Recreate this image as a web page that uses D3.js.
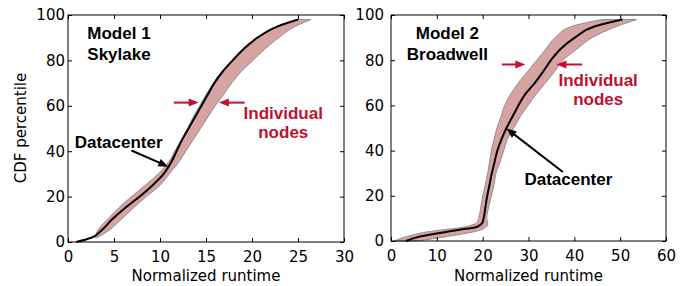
<!DOCTYPE html>
<html>
<head>
<meta charset="utf-8">
<script src="https://cdn.jsdelivr.net/npm/d3@7"></script>
<style>
  body { margin: 0; background: #fff; }
  .tick text { font-family: "DejaVu Sans", sans-serif; font-size: 15px; fill: #000; }
  .tick line { stroke: #000; }
  .note { font-family: "Liberation Sans", Arial, sans-serif; font-weight: bold; font-size: 17px; }
</style>
</head>
<body>
<script>
// CDF percentiles, runtimes
var pct1 = [0, 2, 5, 10, 15, 20, 25, 30, 35, 40, 45, 50, 55, 60, 65, 70, 75, 80, 85, 90, 95, 98];
var dc1  = [0.9, 2.6, 3.6, 4.8, 6.2, 7.8, 9.2, 10.4, 11.2, 11.8, 12.4, 13.1, 13.8, 14.5, 15.2, 15.9, 16.8, 17.9, 19.1, 20.6, 22.8, 25.0];
var lo1  = [null, 2.9, 3.2, 4.3, 5.5, 6.9, 8.4, 9.8, 10.9, 11.6, 12.3, 13.0, 13.6, 14.3, 15.0, 15.8, 16.7, 17.8, 19.0, 20.5, 22.7, 24.9];
var hi1  = [null, 3.2, 4.4, 5.8, 7.1, 8.5, 10.0, 11.0, 12.0, 12.8, 13.6, 14.4, 15.2, 16.0, 16.9, 17.8, 18.8, 20.1, 21.4, 22.9, 24.7, 26.4];

var pct2 = [0, 2, 4, 5, 6, 7, 8, 10, 15, 20, 25, 30, 35, 40, 45, 50, 55, 60, 65, 70, 75, 80, 85, 90, 95, 98];
var dc2  = [3.3, 6.3, 12.0, 15.0, 18.3, 19.4, 19.9, 20.2, 20.6, 21.0, 21.5, 22.0, 22.6, 23.2, 24.1, 25.2, 26.5, 27.8, 29.3, 31.4, 33.2, 34.9, 37.0, 40.1, 44.5, 50.5];
var lo2  = [0.7, 3.5, 7.8, 11.5, 15.5, 17.5, 18.7, 19.1, 19.6, 20.0, 20.6, 21.1, 21.5, 21.9, 22.5, 23.1, 24.0, 24.8, 26.1, 27.8, 29.8, 31.8, 33.8, 35.8, 39.5, 46.0];
var hi2  = [5.8, 12.3, 17.9, 19.7, 20.6, 21.1, 21.1, 20.9, 21.3, 21.9, 22.5, 22.9, 23.8, 24.6, 25.4, 26.8, 28.2, 29.9, 31.7, 33.7, 35.7, 37.5, 40.6, 43.9, 49.3, 53.6];

var yTicks = [0, 20, 40, 60, 80, 100];
var xTicks1 = [0, 5, 10, 15, 20, 25, 30];
var xTicks2 = [0, 10, 20, 30, 40, 50, 60];

var red = "#c0112d";

var svg = d3.select("body").append("svg")
    .attr("width", 691)
    .attr("height", 286);

var panels = [
  { pct: pct1, dc: dc1, lo: lo1, hi: hi1, xmax: 30, xTicks: xTicks1,
    left: 68, right: 344, top: 15, bottom: 242, ypad: 3,
    title: ["Model 1", "Skylake"], titleAt: [2.1, 89.3, 80.2], titleAnchor: "start",
    nodesAt: [23.4, 54.1, 45.7], nodeArrows: [[11.5, 14.2], [19.2, 16.4]], nodeY: 61.4,
    dcText: [5.5, 41.3], dcArrow: [6.9, 40.3, 10.9, 33.2] },
  { pct: pct2, dc: dc2, lo: lo2, hi: hi2, xmax: 60, xTicks: xTicks2,
    left: 391, right: 666, top: 15, bottom: 241, ypad: 7,
    title: ["Model 2", "Broadwell"], titleAt: [12.3, 89.6, 80.0], titleAnchor: "middle",
    nodesAt: [45.2, 68.5, 60.1], nodeArrows: [[24.2, 29.3], [41.7, 36.1]], nodeY: 78.1,
    dcText: [38.7, 24.7], dcArrow: [37.5, 30.5, 25.2, 49.8] }
];

// arrow: shaft then a filled head, in pixels
function arrow(g, x0, y0, x1, y1, color) {
  var dx = x1 - x0, dy = y1 - y0, L = Math.sqrt(dx * dx + dy * dy);
  var ux = dx / L, uy = dy / L, hl = 10, hw = 4;
  g.append("line")
      .attr("x1", x0).attr("y1", y0)
      .attr("x2", x1 - ux * (hl - 2)).attr("y2", y1 - uy * (hl - 2))
      .attr("stroke", color).attr("stroke-width", 2);
  var bx = x1 - ux * hl, by = y1 - uy * hl;
  g.append("path")
      .attr("d", "M" + x1 + "," + y1 +
                 "L" + (bx - uy * hw) + "," + (by + ux * hw) +
                 "L" + (bx + uy * hw) + "," + (by - ux * hw) + "Z")
      .attr("fill", color);
}

panels.forEach(function(p) {
  var x = d3.scaleLinear().domain([0, p.xmax]).range([p.left, p.right]);
  var y = d3.scaleLinear().domain([0, 100]).range([p.bottom, p.top]);
  var g = svg.append("g");
  var w = p.right - p.left, h = p.bottom - p.top;

  // band of individual nodes
  var band = d3.area()
      .defined(function(d, i) { return p.lo[i] != null; })
      .y(function(d) { return y(d); })
      .x0(function(d, i) { return x(p.lo[i]); })
      .x1(function(d, i) { return x(p.hi[i]); })
      .curve(d3.curveMonotoneY);
  g.append("path")
      .attr("d", band(p.pct))
      .attr("fill", "#d7a2a2")
      .attr("stroke", "#8f8f8f")
      .attr("stroke-width", 1);

  // datacenter curve
  var line = d3.line()
      .y(function(d) { return y(d); })
      .x(function(d, i) { return x(p.dc[i]); })
      .curve(d3.curveMonotoneY);
  g.append("path")
      .attr("d", line(p.pct))
      .attr("fill", "none")
      .attr("stroke", "#000")
      .attr("stroke-width", 2);

  // axes, ticks inward on all four sides
  g.append("g")
      .attr("transform", "translate(0," + p.bottom + ")")
      .call(d3.axisBottom(x).tickValues(p.xTicks).tickSize(-4).tickPadding(9))
      .call(function(a) { a.select(".domain").remove(); });
  g.append("g")
      .attr("transform", "translate(0," + p.top + ")")
      .call(d3.axisTop(x).tickValues(p.xTicks).tickSize(-4).tickFormat(""))
      .call(function(a) { a.select(".domain").remove(); });
  g.append("g")
      .attr("transform", "translate(" + p.left + ",0)")
      .call(d3.axisLeft(y).tickValues(yTicks).tickSize(-4).tickPadding(p.ypad))
      .call(function(a) { a.select(".domain").remove(); });
  g.append("g")
      .attr("transform", "translate(" + p.right + ",0)")
      .call(d3.axisRight(y).tickValues(yTicks).tickSize(-4).tickFormat(""))
      .call(function(a) { a.select(".domain").remove(); });
  g.selectAll(".tick text").attr("font-family", null).attr("font-size", null);

  g.append("rect")
      .attr("x", p.left).attr("y", p.top)
      .attr("width", w).attr("height", h)
      .attr("fill", "none").attr("stroke", "#000").attr("stroke-width", 1);

  g.append("text")
      .attr("x", (p.left + p.right) / 2).attr("y", 281)
      .attr("text-anchor", "middle")
      .style("font-family", "DejaVu Sans").style("font-size", "15px")
      .text("Normalized runtime");

  // model label
  p.title.forEach(function(t, i) {
    g.append("text").attr("class", "note")
        .attr("x", x(p.titleAt[0])).attr("y", y(p.titleAt[1 + i]))
        .attr("text-anchor", p.titleAnchor)
        .text(t);
  });

  // individual nodes
  ["Individual", "nodes"].forEach(function(t, i) {
    g.append("text").attr("class", "note")
        .attr("x", x(p.nodesAt[0])).attr("y", y(p.nodesAt[1 + i]))
        .attr("text-anchor", "middle").attr("fill", red)
        .text(t);
  });
  p.nodeArrows.forEach(function(a) {
    arrow(g, x(a[0]), y(p.nodeY), x(a[1]), y(p.nodeY), red);
  });

  // datacenter
  g.append("text").attr("class", "note")
      .attr("x", x(p.dcText[0])).attr("y", y(p.dcText[1]))
      .attr("text-anchor", "middle")
      .text("Datacenter");
  arrow(g, x(p.dcArrow[0]), y(p.dcArrow[1]), x(p.dcArrow[2]), y(p.dcArrow[3]), "#000");
});

svg.append("text")
    .attr("transform", "translate(26,128) rotate(-90)")
    .attr("text-anchor", "middle")
    .style("font-family", "DejaVu Sans").style("font-size", "15px")
    .text("CDF percentile");
</script>
</body>
</html>
